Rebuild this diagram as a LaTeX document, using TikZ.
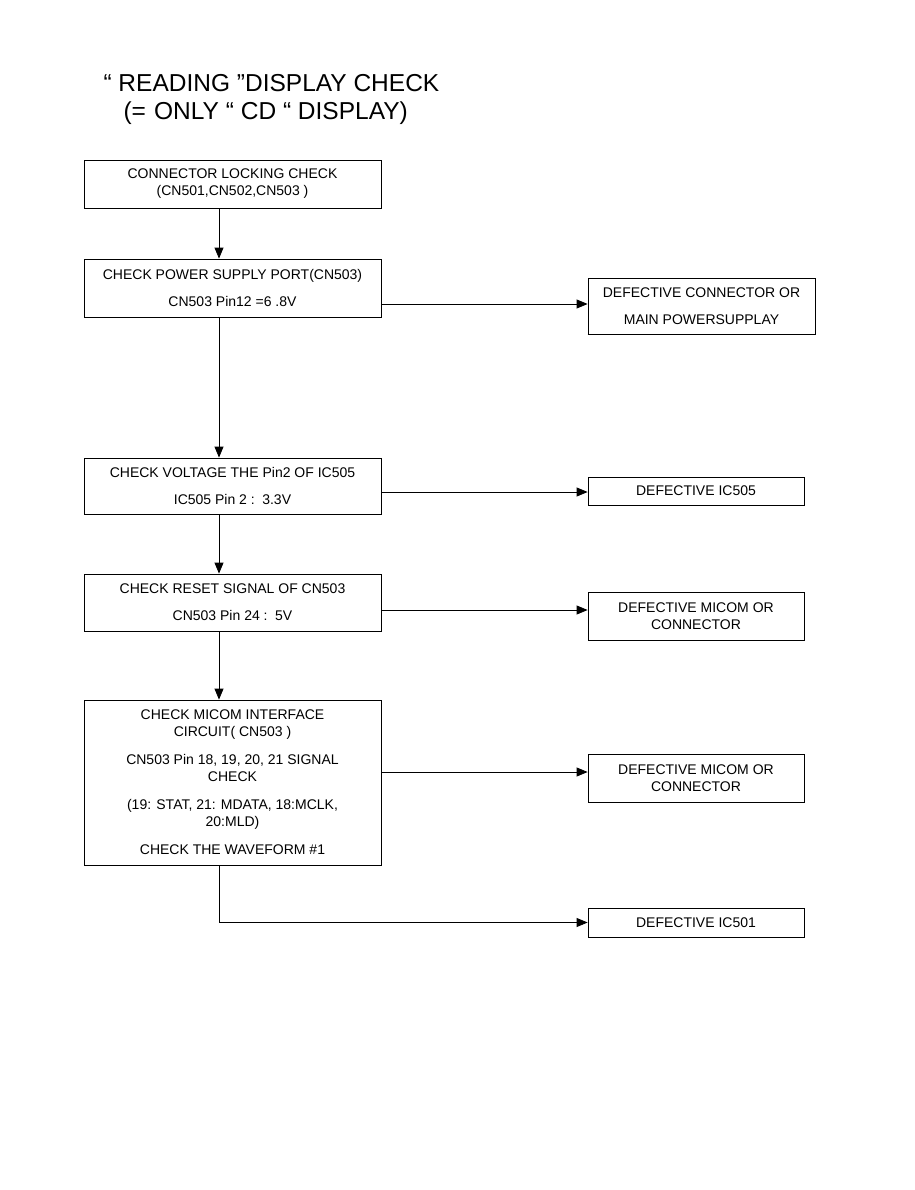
\documentclass[tikz,border=0pt]{standalone}
\usepackage{fontspec}
\setmainfont{Liberation Sans}
\usepackage{tikz}
\usetikzlibrary{arrows.meta}
\newcommand{\boxfont}{\fontsize{14}{17}\selectfont}
\newcommand{\boxfontlarge}{\fontsize{14}{27}\selectfont}

\begin{document}
\begin{tikzpicture}[x=1pt, y=-1pt,
    chk/.style={draw, line width=0.8pt, minimum width=297pt, align=center,
      inner sep=0pt, font=\boxfont},
    defect/.style={draw, line width=0.8pt, minimum width=216pt, align=center,
      inner sep=0pt, font=\boxfont},
    arr/.style={-{Triangle[length=11pt, width=9pt]}, line width=0.8pt}]
  \useasboundingbox (0,0) rectangle (914,1190);
  % Le titre.
  \node[anchor=west, font=\fontsize{24.5}{29}\selectfont] (titre) at (100,83)
    {“ READING ”DISPLAY CHECK};
  \node[anchor=west, font=\fontsize{24.5}{29}\selectfont] (soustitre) at (120,113)
    {(=\,\,ONLY “ CD “ DISPLAY)};
  % Les étapes de contrôle, de haut en bas.
  \node[chk, minimum height=48pt] (connect) at (232.5,184)
    {CONNECTOR LOCKING CHECK\\(CN501,CN502,CN503 )};
  \node[chk, minimum height=58pt, font=\boxfontlarge] (alim) at (232.5,288)
    {CHECK POWER SUPPLY PORT(CN503)\\CN503 Pin12 =6 .8V};
  \node[chk, minimum height=56pt, font=\boxfontlarge] (tension) at (232.5,486)
    {CHECK VOLTAGE THE Pin2 OF IC505\\IC505 Pin 2 :\, 3.3V};
  \node[chk, minimum height=57pt, font=\boxfontlarge] (reset) at (232.5,602.5)
    {CHECK RESET SIGNAL OF CN503\\CN503 Pin 24 :\, 5V};
  \node[chk, minimum height=165pt] (micom) at (232.5,782.5)
    {CHECK MICOM INTERFACE\\CIRCUIT( CN503 )\\[11pt]
     CN503 Pin 18, 19, 20, 21 SIGNAL\\CHECK\\[11pt]
     (19: STAT, 21: MDATA, 18:MCLK,\\20:MLD)\\[11pt]
     CHECK THE WAVEFORM \#1};
  % Les pannes, à droite.
  \node[defect, minimum width=227pt, minimum height=56pt,
    font=\boxfontlarge] (dalim) at (701.5,306)
    {DEFECTIVE CONNECTOR OR\\MAIN POWERSUPPLAY};
  \draw[line width=1.6pt] (dalim.south west) -- (dalim.south east) -- (dalim.north east);
  \node[defect, minimum height=28pt] (dtension) at (696,491) {DEFECTIVE IC505};
  \node[defect, minimum height=48pt] (dreset) at (696,616)
    {DEFECTIVE MICOM OR\\CONNECTOR};
  \node[defect, minimum height=48pt] (dmicom) at (696,778)
    {DEFECTIVE MICOM OR\\CONNECTOR};
  \node[defect, minimum height=29pt] (dic) at (696,922.5) {DEFECTIVE IC501};
  % Les flèches descendantes.
  \draw[arr] (connect.south -| 219,0) -- (alim.north -| 219,0);
  \draw[arr] (alim.south -| 219,0) -- (tension.north -| 219,0);
  \draw[arr] (tension.south -| 219,0) -- (reset.north -| 219,0);
  \draw[arr] (reset.south -| 219,0) -- (micom.north -| 219,0);
  % Les flèches vers les pannes.
  \draw[arr] (alim.east |- 0,304) -- (dalim.west |- 0,304);
  \draw[arr] (tension.east |- 0,492) -- (dtension.west |- 0,492);
  \draw[arr] (reset.east |- 0,610) -- (dreset.west |- 0,610);
  \draw[arr] (micom.east |- 0,772) -- (dmicom.west |- 0,772);
  \draw[arr] (micom.south -| 219,0) |- (dic.west);
\end{tikzpicture}
\end{document}
